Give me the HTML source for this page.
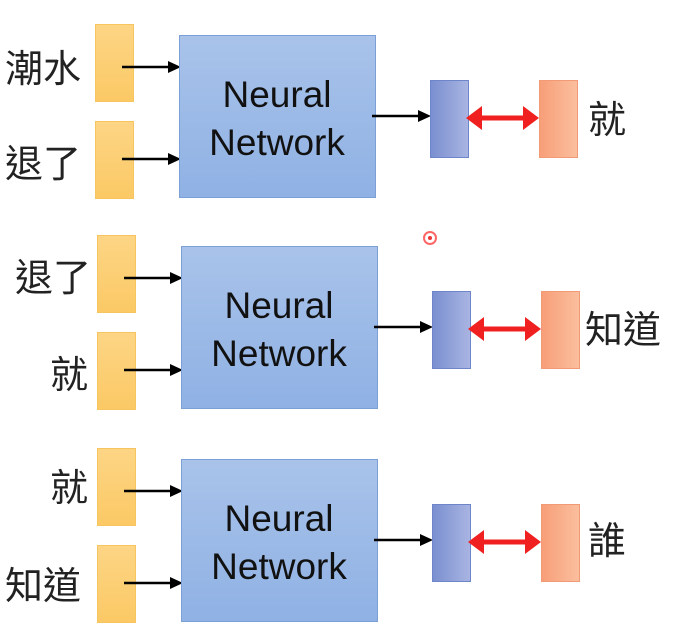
<!DOCTYPE html>
<html><head><meta charset="utf-8"><style>
body{margin:0;background:#fff}
svg text{font-family:"Liberation Sans","Noto Sans CJK TC",sans-serif}
</style></head><body>
<svg width="674" height="631" viewBox="0 0 674 631" xmlns="http://www.w3.org/2000/svg">
<defs>
<linearGradient id="y" x1="0" x2="0" y1="0" y2="1"><stop offset="0" stop-color="#fdd585"/><stop offset="1" stop-color="#fbc965"/></linearGradient>
<linearGradient id="nn" x1="0" x2="0" y1="0" y2="1"><stop offset="0" stop-color="#a9c3ea"/><stop offset="1" stop-color="#8fb1e4"/></linearGradient>
<linearGradient id="b" x1="0" x2="1" y1="0" y2="0"><stop offset="0" stop-color="#7a8fd0"/><stop offset="1" stop-color="#a9b5e2"/></linearGradient>
<linearGradient id="o" x1="0" x2="1" y1="0" y2="0"><stop offset="0" stop-color="#f79e78"/><stop offset="1" stop-color="#fbbf9e"/></linearGradient>
</defs>
<g id="r1">
<rect x="95.5" y="24.5" width="38" height="77" fill="url(#y)" stroke="#f6c560"/>
<rect x="95.5" y="121.5" width="38" height="77" fill="url(#y)" stroke="#f6c560"/>
<line x1="122" y1="67" x2="170" y2="67" stroke="#000" stroke-width="2.5"/>
<path d="M168,61 L181,67 L168,73 z" fill="#000"/>
<line x1="122" y1="159" x2="170" y2="159" stroke="#000" stroke-width="2.5"/>
<path d="M168,153 L181,159 L168,165 z" fill="#000"/>
<rect x="179.5" y="35.5" width="196" height="162" fill="url(#nn)" stroke="#7c9fd6"/>
<text x="277" y="107" font-size="37" text-anchor="middle" fill="#111">Neural</text>
<text x="277" y="155" font-size="37" text-anchor="middle" fill="#111">Network</text>
<line x1="372" y1="116" x2="420" y2="116" stroke="#000" stroke-width="2.5"/>
<path d="M418,110 L431,116 L418,122 z" fill="#000"/>
<rect x="430.5" y="80.5" width="38" height="77" fill="url(#b)" stroke="#6f85c9"/>
<line x1="478" y1="118" x2="528" y2="118" stroke="#f02020" stroke-width="5"/>
<path d="M466,118 L482,106 L482,130 z M539,118 L523,106 L523,130 z" fill="#f02020"/>
<rect x="539.5" y="80.5" width="38" height="77" fill="url(#o)" stroke="#f29a76"/>
</g>
<text x="5" y="82" font-size="38" fill="#222">潮水</text>
<text x="5" y="177" font-size="38" fill="#222">退了</text>
<text x="588" y="133" font-size="38" fill="#222">就</text>
<use href="#r1" transform="translate(2,211)"/>
<text x="15" y="291" font-size="38" fill="#222">退了</text>
<text x="50" y="388" font-size="38" fill="#222">就</text>
<text x="585" y="343" font-size="38" fill="#222">知道</text>
<use href="#r1" transform="translate(2,424)"/>
<text x="50" y="501" font-size="38" fill="#222">就</text>
<text x="5" y="599" font-size="38" fill="#222">知道</text>
<text x="588" y="554" font-size="38" fill="#222">誰</text>
<circle cx="430" cy="238" r="6" fill="#fff" stroke="#f66" stroke-width="2"/>
<circle cx="430" cy="238" r="2" fill="#e33"/>
</svg>
</body></html>
